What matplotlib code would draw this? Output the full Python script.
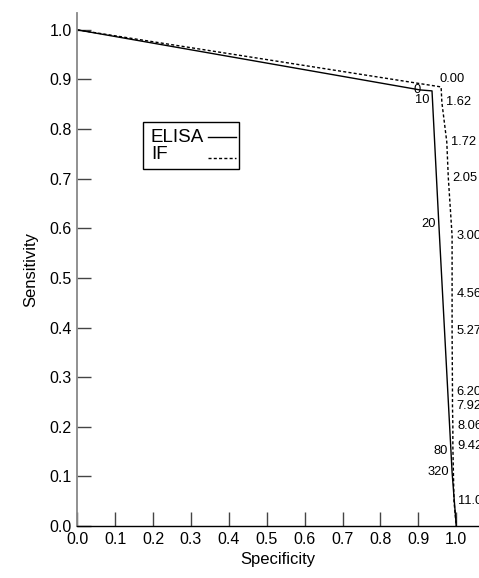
import matplotlib
matplotlib.use("Agg")
import matplotlib.pyplot as plt
from matplotlib.lines import Line2D
from matplotlib.offsetbox import (AnchoredOffsetbox, DrawingArea, HPacker,
                                  TextArea, VPacker)

plt.rcParams["font.family"] = ["Liberation Sans", "DejaVu Sans"]

# ELISA cut-offs (titre) and their (specificity, sensitivity)
elisa_cut = ["0", "10", "20", "80", "320"]
elisa_spec = [0.904, 0.936, 0.954, 0.986, 0.989]
elisa_sens = [0.879, 0.877, 0.609, 0.151, 0.108]

# IF cut-offs and their (specificity, sensitivity)
if_cut = ["0.00", "1.62", "1.72", "2.05", "3.00", "4.56", "5.27",
          "6.20", "7.92", "8.06", "9.42", "11.0"]
if_spec = [0.960, 0.962, 0.975, 0.979, 0.989, 0.989, 0.989,
           0.990, 0.990, 0.991, 0.991, 0.994]
if_sens = [0.885, 0.854, 0.774, 0.702, 0.585, 0.468, 0.393,
           0.270, 0.242, 0.202, 0.161, 0.050]

# curves run from (0, 1) to (1, 0)
start = (0.0, 1.0)
end = (1.0, 0.0)

ticks = [0.0, 0.1, 0.2, 0.3, 0.4, 0.5, 0.6, 0.7, 0.8, 0.9, 1.0]
series_names = ["ELISA", "IF"]

fig = plt.figure(figsize=(4.79, 5.78), dpi=100)
ax = fig.add_axes([0.1614, 0.09, 0.8386, 0.8875])

x_el = [start[0]] + elisa_spec + [end[0]]
y_el = [start[1]] + elisa_sens + [end[1]]
x_if = [start[0]] + if_spec + [end[0]]
y_if = [start[1]] + if_sens + [end[1]]

dash = (0, (2.2, 1.6))
ax.plot(x_el, y_el, color="black", lw=1.0, zorder=2)
ax.plot(x_if, y_if, color="black", lw=1.0, linestyle=dash, zorder=2)

fs_lab = 9.3
for lab, x, y in zip(elisa_cut, elisa_spec, elisa_sens):
    if lab == "0":
        ax.annotate(lab, (x, y), xytext=(0.5, 0), textcoords="offset points",
                    ha="right", va="center", fontsize=fs_lab)
    elif lab == "10":
        ax.annotate(lab, (x, y), xytext=(-2, -2.5), textcoords="offset points",
                    ha="right", va="top", fontsize=fs_lab)
    else:
        ax.annotate(lab, (x, y), xytext=(-2, 0), textcoords="offset points",
                    ha="right", va="center", fontsize=fs_lab)

for lab, x, y in zip(if_cut, if_spec, if_sens):
    if lab == "0.00":
        ax.annotate(lab, (x, y), xytext=(-1, 1.5), textcoords="offset points",
                    ha="left", va="bottom", fontsize=fs_lab)
    else:
        ax.annotate(lab, (x, y), xytext=(3, 0), textcoords="offset points",
                    ha="left", va="center", fontsize=fs_lab)

ax.set_xlim(0, 1.06)
ax.set_ylim(0, 1.034)
ax.set_xticks(ticks)
ax.set_yticks(ticks)
ax.set_xticklabels([f"{t:.1f}" for t in ticks])
ax.set_yticklabels([f"{t:.1f}" for t in ticks])
ax.tick_params(direction="in", length=10, width=1.0, color="#444444",
               labelsize=11.5, pad=4)

for s in ["top", "right"]:
    ax.spines[s].set_visible(False)
ax.spines["left"].set_color("#888888")
ax.spines["left"].set_linewidth(1.3)
ax.spines["bottom"].set_color("black")
ax.spines["bottom"].set_linewidth(1.0)

ax.set_xlabel("Specificity", fontsize=12, labelpad=4)
ax.set_ylabel("Sensitivity", fontsize=12, labelpad=8)

# legend: names left-aligned, line samples on the right
texts = VPacker(children=[TextArea(n, textprops=dict(fontsize=13.5))
                          for n in series_names],
                align="left", pad=0, sep=0)
samples = []
for style in ["-", dash]:
    da = DrawingArea(22, 15.5, 0, 0)
    da.add_artist(Line2D([1, 21], [6.5, 6.5], color="black", lw=1.0,
                         linestyle=style))
    samples.append(da)
lines = VPacker(children=samples, align="left", pad=0, sep=0)
spacer = DrawingArea(2, 1, 0, 0)
box = HPacker(children=[spacer, texts, lines], align="center", pad=0, sep=2)
anc = AnchoredOffsetbox(loc="upper left", child=box, pad=0.15, borderpad=0,
                        frameon=True, bbox_to_anchor=(0.164, 0.787),
                        bbox_transform=ax.transAxes)
anc.patch.set_edgecolor("black")
anc.patch.set_linewidth(1.0)
anc.patch.set_boxstyle("square", pad=0)
ax.add_artist(anc)

fig.savefig("out.png", dpi=100)
